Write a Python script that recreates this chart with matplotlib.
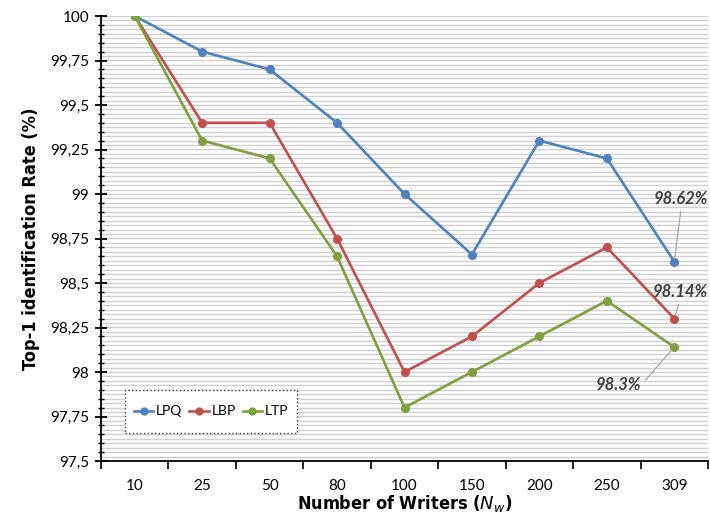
import numpy as np
import matplotlib
matplotlib.use('Agg')
import matplotlib.pyplot as plt
from matplotlib.patches import Rectangle
from matplotlib.ticker import MultipleLocator, FixedLocator, FuncFormatter

# Data
writers = ['10', '25', '50', '80', '100', '150', '200', '250', '309']
lpq = [100, 99.8, 99.7, 99.4, 99.0, 98.66, 99.3, 99.2, 98.62]
lbp = [100, 99.4, 99.4, 98.75, 98.0, 98.2, 98.5, 98.7, 98.3]
ltp = [100, 99.3, 99.2, 98.65, 97.8, 98.0, 98.2, 98.4, 98.14]

series = [('LPQ', lpq, '#4F81BD'), ('LBP', lbp, '#C0504D'), ('LTP', ltp, '#7FA03E')]

# end-point labels (text, series, offset in points)
end_labels = [('98.62%', lpq, (5, 45), (0.5, 0.0)),
              ('98.14%', lbp, (4, 19), (0.5, 0.0)),
              ('98.3%', ltp, (-40, -27), (1.0, 0.5))]

plt.rcParams['font.family'] = ['Lato', 'DejaVu Sans']

fig = plt.figure(figsize=(7.1, 5.22), dpi=100)
ax = fig.add_axes([101 / 710, 61 / 522, 607 / 710, 445 / 522])

x = np.arange(len(writers))

# dense horizontal grid
for gy in np.arange(97.5, 100.0001, 0.025):
    ax.axhline(gy, color='#cfcfcf', lw=1.0, zorder=0)

for name, vals, col in series:
    ax.plot(x, vals, color=col, lw=1.9, marker='o', markersize=5.5, label=name, zorder=3)

for txt, vals, off, rp in end_labels:
    ax.annotate(txt, xy=(x[-1], vals[-1]), xytext=off, textcoords='offset points',
                ha='center', va='center', fontsize=12, fontweight='bold', fontstyle='italic',
                color='#404040', annotation_clip=False,
                arrowprops=dict(arrowstyle='-', color='#a0a0a0', lw=0.8, relpos=rp,
                                shrinkA=1, shrinkB=2), zorder=4)

ax.set_xlim(-0.5, len(writers) - 0.5)
ax.set_ylim(97.5, 100)

ax.yaxis.set_major_locator(MultipleLocator(0.25))
ax.yaxis.set_minor_locator(MultipleLocator(0.05))
ax.yaxis.set_major_formatter(FuncFormatter(lambda v, p: ('%g' % round(v, 2)).replace('.', ',')))
ax.tick_params(axis='y', which='major', direction='inout', length=9, width=1.3, labelsize=11, pad=4)
ax.tick_params(axis='y', which='minor', direction='inout', length=4, width=1.0)

ax.xaxis.set_major_locator(FixedLocator(np.arange(-0.5, len(writers), 1.0)))
ax.xaxis.set_major_formatter(FuncFormatter(lambda v, p: ''))
ax.xaxis.set_minor_locator(FixedLocator(x))
ax.set_xticklabels(writers, minor=True)
ax.tick_params(axis='x', which='major', direction='out', length=6, width=1.2)
ax.tick_params(axis='x', which='minor', length=0, labelsize=11, pad=13)

for s in ['top', 'right']:
    ax.spines[s].set_visible(False)
ax.spines['left'].set_linewidth(1.3)
ax.spines['bottom'].set_linewidth(1.3)

lab_font = dict(family='DejaVu Sans', fontweight='heavy', fontstretch='condensed', fontsize=13)
ax.set_xlabel(r'Number of Writers ($N_w$)', labelpad=0, **lab_font)
ax.set_ylabel('Top-1 identification Rate (%)', labelpad=7, **lab_font)

# legend: dotted box drawn separately, entries centred inside it
box = (0.04, 0.063, 0.283, 0.097)
ax.add_patch(Rectangle(box[:2], box[2], box[3], transform=ax.transAxes, facecolor='white',
                       edgecolor='#404040', linestyle=':', lw=1.0, zorder=5))
leg = ax.legend(loc='center', bbox_to_anchor=(box[0] + box[2] / 2, box[1] + box[3] / 2),
                ncol=3, fontsize=10, frameon=False, handlelength=1.4, handletextpad=0.2,
                columnspacing=0.5, borderpad=0.0, borderaxespad=0.0, markerscale=0.9)
leg.set_zorder(6)

fig.savefig('out.png', dpi=100)
